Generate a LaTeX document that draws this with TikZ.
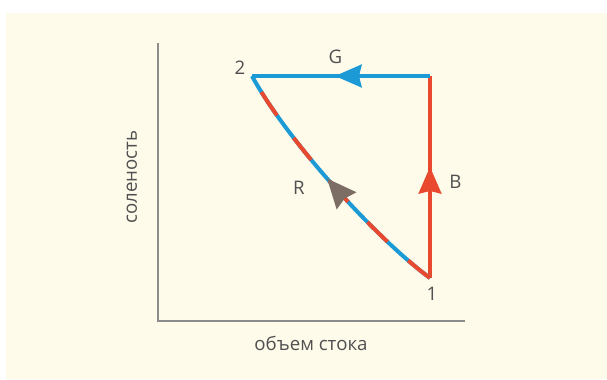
\documentclass[tikz,border=0pt]{standalone}
\usepackage{fontspec}
\setmainfont{Open Sans}
\usetikzlibrary{
  arrows.meta,
  positioning,
  decorations.markings
}
\definecolor{flowblue}{HTML}{1B9AD6}
\definecolor{saltred}{HTML}{E8492F}
\definecolor{mixbrown}{HTML}{7C6D65}
\definecolor{paper}{HTML}{FEFBEA}
\definecolor{axisgray}{HTML}{8C8C8C}
\definecolor{labelgray}{HTML}{505050}

\begin{document}
\begin{tikzpicture}[
    x=0.75pt, y=-0.75pt, % pixel grid of the reference
    every node/.style={font=\fontsize{14}{16}\selectfont, text=labelgray, inner sep=0pt},
    axis/.style={draw=axisgray, line width=1.1pt},
    leg/.style={line width=3pt},
    midarrow/.style 2 args={
      postaction={decorate},
      decoration={markings, mark=at position #1 with
        {\arrow{Stealth[length=20pt, width=17pt, inset=2pt, color=#2]}}}
    },
    bigarrow/.style 2 args={
      postaction={decorate},
      decoration={markings, mark=at position #1 with
        {\arrow{Stealth[length=22pt, width=19pt, inset=2pt, color=#2]}}}
    },
  ]

  % --- Frame ---
  \useasboundingbox (0,0) rectangle (607,379);
  \fill[paper] (6,13) rectangle (607,379);

  % --- Axes ---
  \coordinate (ytop) at (158,43);
  \coordinate (origin) at (158,321);
  \coordinate (xend) at (465,321);
  \draw[axis] (ytop) -- (origin) -- (xend);

  \node[rotate=90] (ylab) at (132,177) {соленость};
  \node (xlab) at (311,343) {объем стока};

  % --- States ---
  \coordinate (p1) at (430,278);
  \coordinate (p2) at (252,76);
  \coordinate (corner) at (430,76);
  \coordinate (c1) at (378,240);
  \coordinate (c2) at (288,142);

  % --- Paths ---
  \draw[leg, saltred, midarrow={0.55}{saltred}] (p1) -- (corner);
  \draw[leg, flowblue, midarrow={0.534}{flowblue}] (corner) -- (p2);
  \draw[leg, flowblue] (p1) .. controls (c1) and (c2) .. (p2);
  \draw[leg, saltred, dash pattern=on 21pt off 21pt, bigarrow={0.53}{mixbrown}]
    (p1) .. controls (c1) and (c2) .. (p2);

  % --- Labels ---
  \node (lab2) at (240,68) {2};
  \node (lab1) at (432,294) {1};
  \node (labG) at (335.5,57) {G};
  \node (labB) at (455.5,181.5) {B};
  \node (labR) at (299,188) {R};
\end{tikzpicture}
\end{document}
